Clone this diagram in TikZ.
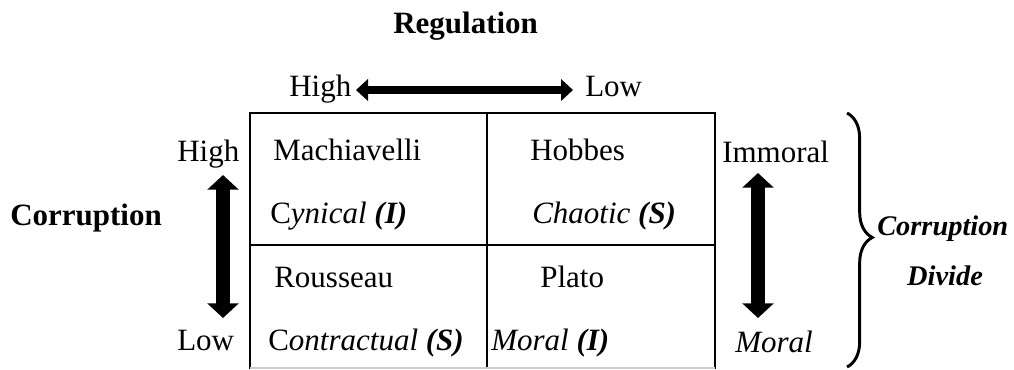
\documentclass[tikz,border=0pt]{standalone}
\usepackage{fontspec}
\setmainfont{Liberation Serif}
\usetikzlibrary{arrows.meta,decorations.pathreplacing}
\begin{document}
\begin{tikzpicture}[x=0.75pt,y=-0.75pt,
  txt/.style={inner sep=0pt,anchor=base west,font=\fontsize{23.25}{28}\selectfont},
  smalltxt/.style={inner sep=0pt,anchor=base west,font=\fontsize{21.3}{26}\selectfont},
  grid/.style={line width=1.1pt,black},
  harrow/.style={line width=6pt,{Triangle[length=9pt,width=16pt]}-{Triangle[length=9pt,width=16pt]}},
  varrow/.style={line width=10.5pt,{Triangle[length=11pt,width=23pt]}-{Triangle[length=11pt,width=23pt]}}]
\useasboundingbox (0,0) rectangle (1014,369);
% grid
\coordinate (tl) at (250,113);
\coordinate (tr) at (715,113);
\coordinate (tm) at (487,113);
\coordinate (ml) at (250,245);
\coordinate (mr) at (715,245);
\coordinate (bl) at (250,369);
\coordinate (bm) at (487,369);
\coordinate (br) at (715,369);
\draw[grid] (bl) -- (tl) -- (tr) -- (br);
\draw[grid] (tm) -- (bm);
\draw[grid] (ml) -- (mr);
\draw[gray!40,line width=0.8pt] (250,368) -- (715,368);
% titles
\node[txt] (reg) at (393,33) {\textbf{Regulation}};
\node[txt] (thigh) at (289,96) {High};
\node[txt] (tlow) at (585,96) {Low};
\coordinate (ha) at (356,90);
\coordinate (hb) at (573,90);
\draw[harrow] (ha) -- (hb);
% cells
\node[txt] (mach) at (273,160) {Machiavelli};
\node[txt] (hob) at (530,160) {Hobbes};
\node[txt] (cyn) at (270,223) {C\textit{ynical \textbf{(I)}}};
\node[txt] (cha) at (532,223) {\textit{Chaotic \textbf{(S)}}};
\node[txt] (rou) at (274,287) {Rousseau};
\node[txt] (pla) at (540,287) {Plato};
\node[txt] (con) at (268,350) {C\textit{ontractual \textbf{(S)}}};
\node[txt] (mor) at (491,350) {\textit{Moral \textbf{(I)}}};
% left side
\node[txt] (lhigh) at (177,161) {High};
\node[txt] (llow) at (177,350) {Low};
\node[txt] (corr) at (10,225) {\textbf{Corruption}};
\coordinate (la) at (223,175);
\coordinate (lb) at (223,318);
\draw[varrow] (la) -- (lb);
% right side
\node[txt] (imm) at (722,162) {Immoral};
\node[txt] (rmor) at (735,352) {\textit{Moral}};
\coordinate (ra) at (758,173);
\coordinate (rb) at (758,318);
\draw[varrow] (ra) -- (rb);
\coordinate (bt) at (847,113);
\coordinate (bb) at (847,367);
\draw[line width=2.2pt,decorate,decoration={brace,amplitude=19pt,aspect=0.49}] (bt) -- (bb);
\node[smalltxt] (corr2) at (877,235) {\textbf{\textit{Corruption}}};
\node[smalltxt,anchor=base] (div) at (945,285) {\textbf{\textit{Divide}}};
\end{tikzpicture}
\end{document}
